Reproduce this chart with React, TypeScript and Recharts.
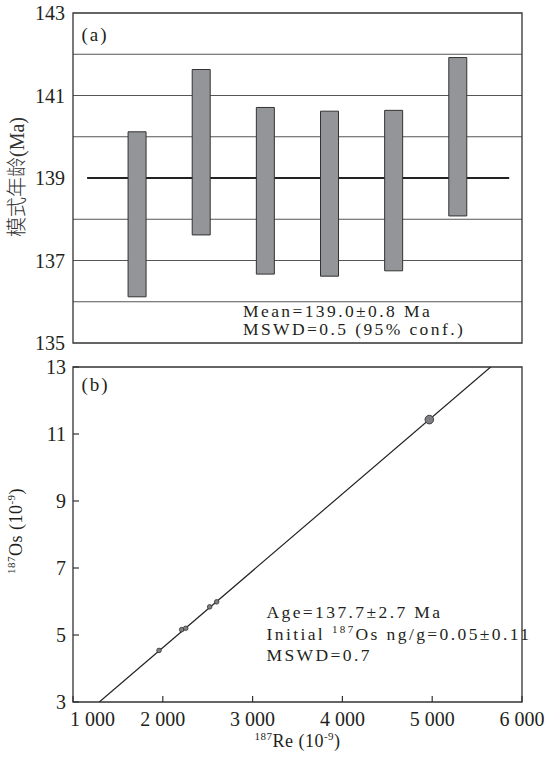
import React from "react";
import {
  ComposedChart,
  Bar,
  Line,
  Scatter,
  XAxis,
  YAxis,
  ReferenceLine,
  ReferenceArea,
} from "recharts";

// (a) model ages per sample, Ma
const sampleNo = [1, 2, 3, 4, 5, 6];
const ageLow = [136.12, 137.62, 136.67, 136.62, 136.75, 138.08];
const ageHigh = [140.12, 141.63, 140.71, 140.62, 140.64, 141.92];
const meanAge = 139.0;
const meanSpan = [0.22, 6.8];
const ageTicks = [135, 137, 139, 141, 143];
const ageGrid = [136, 137, 138, 140, 141, 142];

// (b) isochron, 187Re vs 187Os (10^-9)
const reValues = [1958, 2210, 2255, 2522, 2600, 4968];
const osValues = [4.54, 5.16, 5.2, 5.84, 5.99, 11.43];
const isochronRe = [1293, 5651];
const isochronOs = [3, 13];
const reTicks = [1000, 2000, 3000, 4000, 5000, 6000];
const osTicks = [3, 5, 7, 9, 11, 13];

const ageData = sampleNo.map((n, i) => ({ n, range: [ageLow[i], ageHigh[i]] }));
const meanLine = meanSpan.map((n) => ({ n, mean: meanAge }));
const points = reValues.map((re, i) => ({ re, os: osValues[i] }));
const isoLine = isochronRe.map((re, i) => ({ re, os: isochronOs[i] }));

const SERIF = "'Liberation Serif', 'Times New Roman', serif";
const INK = "#231f20";
const tickFont = { fontSize: 20, fontFamily: SERIF, fill: INK };

const noteStyle: React.CSSProperties = {
  position: "absolute",
  fontFamily: SERIF,
  fontSize: 17.5,
  letterSpacing: 2.4,
  color: INK,
  whiteSpace: "nowrap",
};

const fmtThousands = (v: number) =>
  v >= 1000 ? `${Math.floor(v / 1000)} ${String(v % 1000).padStart(3, "0")}` : String(v);

const OsTick = (props: any) => {
  const { x, y, payload } = props;
  return (
    <g>
      <line x1={x + 7} x2={x + 13} y1={y} y2={y} stroke="#333" strokeWidth={1.2} />
      <text x={x} y={y} dy="0.35em" textAnchor="end" {...tickFont}>
        {payload.value}
      </text>
    </g>
  );
};

const ReTick = (props: any) => {
  const { x, y, payload, index } = props;
  const first = index === 0;
  return (
    <g>
      <line x1={x} x2={x} y1={y - 10} y2={y - 16} stroke="#333" strokeWidth={1.2} />
      <text
        x={first ? x - 3 : x}
        y={y}
        dy="0.71em"
        textAnchor={first ? "start" : "middle"}
        {...tickFont}
      >
        {fmtThousands(payload.value)}
      </text>
    </g>
  );
};

function RotatedLabel({ cx, cy, children, style }: any) {
  return (
    <div
      style={{
        position: "absolute",
        left: cx,
        top: cy,
        transform: "translate(-50%, -50%) rotate(-90deg)",
        whiteSpace: "nowrap",
        fontFamily: SERIF,
        color: INK,
        ...style,
      }}
    >
      {children}
    </div>
  );
}

const sup: React.CSSProperties = { fontSize: 11, verticalAlign: "top", lineHeight: 1 };

const layer: React.CSSProperties = { position: "absolute", left: 0, top: 0 };
const marginA = { top: 13, right: 26, bottom: 12, left: 13 };

export default function App() {
  return (
    <div style={{ position: "absolute", left: 0, top: 0, width: 548, height: 767, background: "#fff" }}>
      {/* (a) back layer: grid lines and the weighted mean */}
      <div style={layer}>
        <ComposedChart width={548} height={355} data={ageData} margin={marginA}>
          <XAxis type="number" dataKey="n" domain={[0, 7]} hide />
          <YAxis type="number" domain={[135, 143]} ticks={ageTicks} width={60} axisLine={false} tickLine={false} tick={false} />
          {ageGrid.map((v) => (
            <ReferenceLine key={v} y={v} stroke="#555" strokeWidth={1} />
          ))}
          <Line
            data={meanLine}
            dataKey="mean"
            stroke="#222"
            strokeWidth={2.2}
            dot={false}
            isAnimationActive={false}
          />
        </ComposedChart>
      </div>

      {/* (a) front layer: age bars, axis and frame */}
      <div style={layer}>
        <ComposedChart width={548} height={355} data={ageData} margin={marginA}>
          <XAxis type="number" dataKey="n" domain={[0, 7]} hide />
          <YAxis
            type="number"
            domain={[135, 143]}
            ticks={ageTicks}
            width={60}
            axisLine={false}
            tickLine={false}
            tickSize={0}
            tickMargin={8}
            tick={tickFont}
          />
          <Bar
            dataKey="range"
            barSize={18}
            fill="#939598"
            stroke="#333"
            strokeWidth={1}
            isAnimationActive={false}
          />
          <ReferenceArea x1={0} x2={7} y1={135} y2={143} fill="none" stroke="#333" strokeWidth={1.3} />
        </ComposedChart>
      </div>

      {/* (b) Re-Os isochron */}
      <div style={{ position: "absolute", left: 0, top: 355 }}>
        <ComposedChart width={548} height={412} margin={{ top: 12, right: 26, bottom: 25, left: 13 }}>
          <XAxis
            type="number"
            dataKey="re"
            domain={[1000, 6000]}
            ticks={reTicks}
            allowDataOverflow
            height={40}
            axisLine={false}
            tickLine={false}
            tickSize={0}
            tickMargin={10}
            tick={<ReTick />}
          />
          <YAxis
            type="number"
            dataKey="os"
            domain={[3, 13]}
            ticks={osTicks}
            allowDataOverflow
            width={60}
            axisLine={false}
            tickLine={false}
            tickSize={0}
            tickMargin={7}
            tick={<OsTick />}
          />
          <Line
            data={isoLine}
            dataKey="os"
            stroke="#222"
            strokeWidth={1.2}
            dot={false}
            isAnimationActive={false}
          />
          <Scatter
            data={points.slice(0, 5)}
            dataKey="os"
            isAnimationActive={false}
            shape={(p: any) => (
              <circle cx={p.cx} cy={p.cy} r={2.3} fill="#7f8083" stroke="#333" strokeWidth={0.8} />
            )}
          />
          <Scatter
            data={points.slice(5)}
            dataKey="os"
            isAnimationActive={false}
            shape={(p: any) => (
              <circle cx={p.cx} cy={p.cy} r={4.3} fill="#7f8083" stroke="#333" strokeWidth={0.9} />
            )}
          />
          <ReferenceArea x1={1000} x2={6000} y1={3} y2={13} fill="none" stroke="#333" strokeWidth={1.3} />
        </ComposedChart>
      </div>

      {/* panel letters and notes */}
      <div style={{ ...noteStyle, left: 81.5, top: 25, fontSize: 19, lineHeight: "20px", letterSpacing: 2 }}>(a)</div>
      <div style={{ ...noteStyle, left: 81.5, top: 375, fontSize: 19, lineHeight: "20px", letterSpacing: 2 }}>(b)</div>

      <div style={{ ...noteStyle, left: 243, top: 301.8, lineHeight: "18px" }}>
        <div>Mean=139.0±0.8 Ma</div>
        <div>MSWD=0.5 (95% conf.)</div>
      </div>

      <div style={{ ...noteStyle, left: 266.5, top: 602, lineHeight: "21.7px" }}>
        <div>Age=137.7±2.7 Ma</div>
        <div>
          Initial <span style={sup}>187</span>Os ng/g=0.05±0.11
        </div>
        <div>MSWD=0.7</div>
      </div>

      {/* axis titles */}
      <RotatedLabel
        cx={15}
        cy={177}
        style={{ fontSize: 20, fontFamily: "'Liberation Serif', 'Noto Sans CJK SC', serif", color: "#333", fontWeight: 300 }}
      >
        模式年龄(Ma)
      </RotatedLabel>
      <RotatedLabel cx={16} cy={531} style={{ fontSize: 18, letterSpacing: 0.5 }}>
        <span style={sup}>187</span>Os (10<span style={sup}>-9</span>)
      </RotatedLabel>
      <div
        style={{
          position: "absolute",
          left: 73,
          width: 449,
          top: 731,
          textAlign: "center",
          fontFamily: SERIF,
          fontSize: 18,
          letterSpacing: 0.5,
          color: INK,
          whiteSpace: "nowrap",
        }}
      >
        <span style={sup}>187</span>Re (10<span style={sup}>-9</span>)
      </div>
    </div>
  );
}
